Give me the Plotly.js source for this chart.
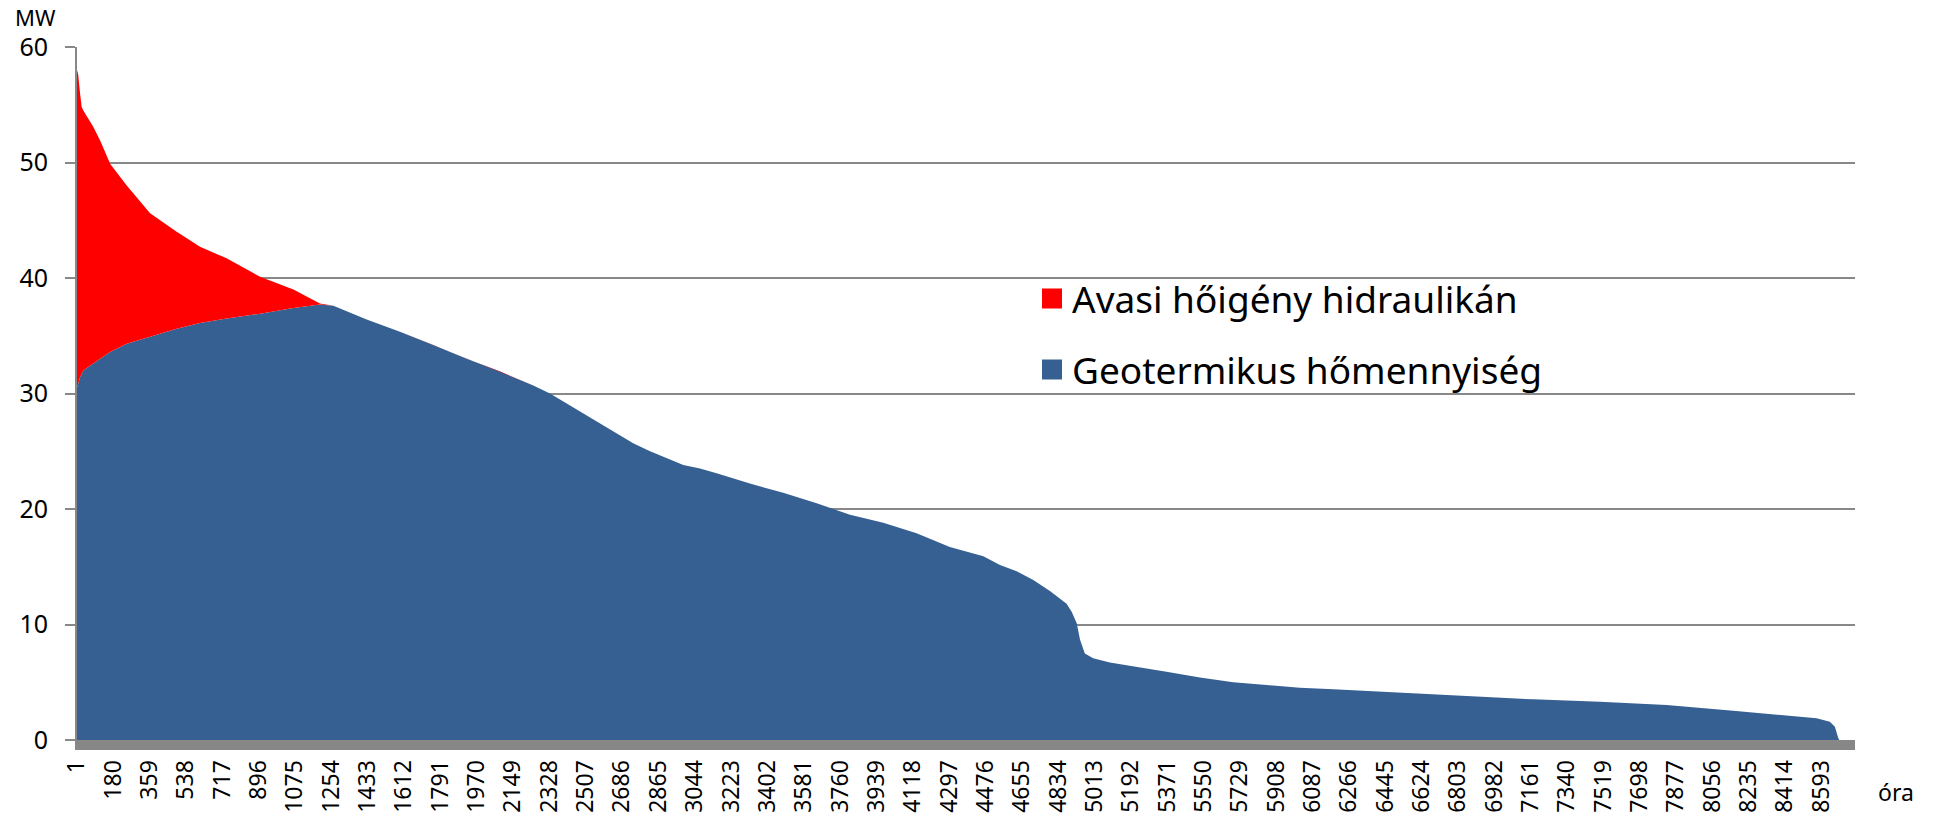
<!DOCTYPE html>
<html>
<head>
<meta charset="utf-8">
<script src="https://cdn.plot.ly/plotly-3.0.1.min.js"></script>
<style>html,body{margin:0;padding:0;background:#fff;}#chart{width:1934px;height:817px;}</style>
</head>
<body>
<div id="chart"></div>
<script>
// Hours (sorted duration curve)
var hours = [1, 7, 16, 24, 32, 81, 115, 164, 246, 361, 492, 607, 738, 903, 1067, 1198, 1264, 1428, 1592, 1756, 1921, 2085, 2249, 2331, 2413, 2577, 2741, 2824, 2906, 2988, 3070, 3152, 3316, 3480, 3645, 3809, 3973, 4137, 4301, 4466, 4548, 4630, 4712, 4794, 4876, 4901, 4926, 4942, 4966, 5007, 5089, 5204, 5368, 5533, 5697, 5861, 6025, 6190, 6354, 6518, 6847, 7175, 7503, 7832, 8160, 8406, 8571, 8636, 8661, 8677, 8682, 8760];

// Geotermikus hőmennyiség (MW)
var geotermikus = [30.5, 30.9, 31.4, 31.7, 32.0, 32.6, 33.0, 33.6, 34.3, 34.9, 35.6, 36.1, 36.5, 36.9, 37.4, 37.7, 37.6, 36.4, 35.35, 34.2, 33.0, 31.9, 30.7, 30.0, 29.15, 27.4, 25.7, 25.0, 24.4, 23.8, 23.5, 23.1, 22.2, 21.4, 20.5, 19.5, 18.8, 17.9, 16.7, 15.9, 15.15, 14.6, 13.85, 12.9, 11.8, 11.1, 10.1, 8.7, 7.5, 7.07, 6.7, 6.35, 5.9, 5.42, 4.99, 4.76, 4.53, 4.39, 4.24, 4.10, 3.81, 3.52, 3.32, 3.03, 2.54, 2.16, 1.88, 1.59, 1.15, 0.2, 0, 0];

// Avasi hőigény hidraulikán (MW, stacked on top)
var avasi = [27.5, 26.7, 24.6, 23.1, 22.5, 20.5, 18.9, 16.3, 13.7, 10.7, 8.4, 6.6, 5.2, 3.2, 1.6, 0.1, 0, 0, 0, 0, 0, 0, 0, 0, 0, 0, 0, 0, 0, 0, 0, 0, 0, 0, 0, 0, 0, 0, 0, 0, 0, 0, 0, 0, 0, 0, 0, 0, 0, 0, 0, 0, 0, 0, 0, 0, 0, 0, 0, 0, 0, 0, 0, 0, 0, 0, 0, 0, 0, 0, 0, 0];

var tickHours = [1, 180, 359, 538, 717, 896, 1075, 1254, 1433, 1612, 1791, 1970, 2149, 2328, 2507, 2686, 2865, 3044, 3223, 3402, 3581, 3760, 3939, 4118, 4297, 4476, 4655, 4834, 5013, 5192, 5371, 5550, 5729, 5908, 6087, 6266, 6445, 6624, 6803, 6982, 7161, 7340, 7519, 7698, 7877, 8056, 8235, 8414, 8593];
var tickLabels = tickHours.map(String);

var seriesNames = ['Avasi hőigény hidraulikán', 'Geotermikus hőmennyiség'];
var colRed = '#FF0000';
var colBlue = '#376092';
var FONT = 'Noto Sans, Open Sans, sans-serif';

var traces = [
  {
    x: hours, y: geotermikus, type: 'scatter', mode: 'lines',
    stackgroup: 'one', fillcolor: colBlue, line: {width: 0, color: colBlue},
    name: seriesNames[1], showlegend: false, hoverinfo: 'x+y'
  },
  {
    x: hours, y: avasi, type: 'scatter', mode: 'lines',
    stackgroup: 'one', fillcolor: colRed, line: {width: 0, color: colRed},
    name: seriesNames[0], showlegend: false, hoverinfo: 'x+y'
  },
  {
    x: [null], y: [null], type: 'scatter', mode: 'markers', name: seriesNames[0],
    marker: {symbol: 'square', size: 16, color: colRed, line: {width: 4, color: colRed}},
    legend: 'legend', showlegend: true
  },
  {
    x: [null], y: [null], type: 'scatter', mode: 'markers', name: seriesNames[1],
    marker: {symbol: 'square', size: 16, color: colBlue, line: {width: 4, color: colBlue}},
    legend: 'legend2', showlegend: true
  }
];

var L = 77, R = 79, T = 47, B = 77, W = 1934, H = 817;
var pw = W - L - R, ph = H - T - B;
function px2x(p) { return (p - L) / pw; }
function px2y(p) { return (H - B - p) / ph; }

var legendCommon = {
  xanchor: 'left', yanchor: 'middle', bgcolor: 'rgba(0,0,0,0)', borderwidth: 0,
  font: {family: FONT, size: 37, color: '#000'}, itemclick: false, itemdoubleclick: false
};

var layout = {
  width: W, height: H,
  margin: {l: L, r: R, t: T, b: B, pad: 0},
  paper_bgcolor: '#fff', plot_bgcolor: '#fff',
  font: {family: FONT, color: '#000'},
  showlegend: true,
  legend: Object.assign({}, legendCommon, {x: px2x(1032), y: px2y(299)}),
  legend2: Object.assign({}, legendCommon, {x: px2x(1032), y: px2y(370)}),
  xaxis: {
    type: 'linear', range: [1, 8760],
    tickmode: 'array', tickvals: tickHours, ticktext: tickLabels,
    tickangle: -90, tickfont: {family: FONT, size: 23, color: '#000'},
    ticks: '', showgrid: false, zeroline: false,
    showline: true, linecolor: '#878787', linewidth: 10,
    ticklabelstandoff: 1, fixedrange: true
  },
  yaxis: {
    range: [0, 60], tickmode: 'array', tickvals: [0, 10, 20, 30, 40, 50, 60],
    ticktext: ['0', '10', '20', '30', '40', '50', '60'],
    tickfont: {family: FONT, size: 25, color: '#000'},
    ticks: 'outside', ticklen: 10, tickwidth: 2, tickcolor: '#888',
    showgrid: true, gridcolor: '#888', gridwidth: 2, zeroline: false,
    showline: true, linecolor: '#888', linewidth: 2,
    ticklabelstandoff: 12, fixedrange: true
  },
  annotations: [
    {text: 'MW', xref: 'paper', yref: 'paper', x: px2x(13), y: px2y(17),
     xanchor: 'left', yanchor: 'middle', showarrow: false,
     font: {family: FONT, size: 22, color: '#000'}},
    {text: 'óra', xref: 'paper', yref: 'paper', x: px2x(1876), y: px2y(792),
     xanchor: 'left', yanchor: 'middle', showarrow: false,
     font: {family: FONT, size: 23, color: '#000'}}
  ]
};

Plotly.newPlot('chart', traces, layout, {displayModeBar: false, staticPlot: true});
</script>
</body>
</html>
